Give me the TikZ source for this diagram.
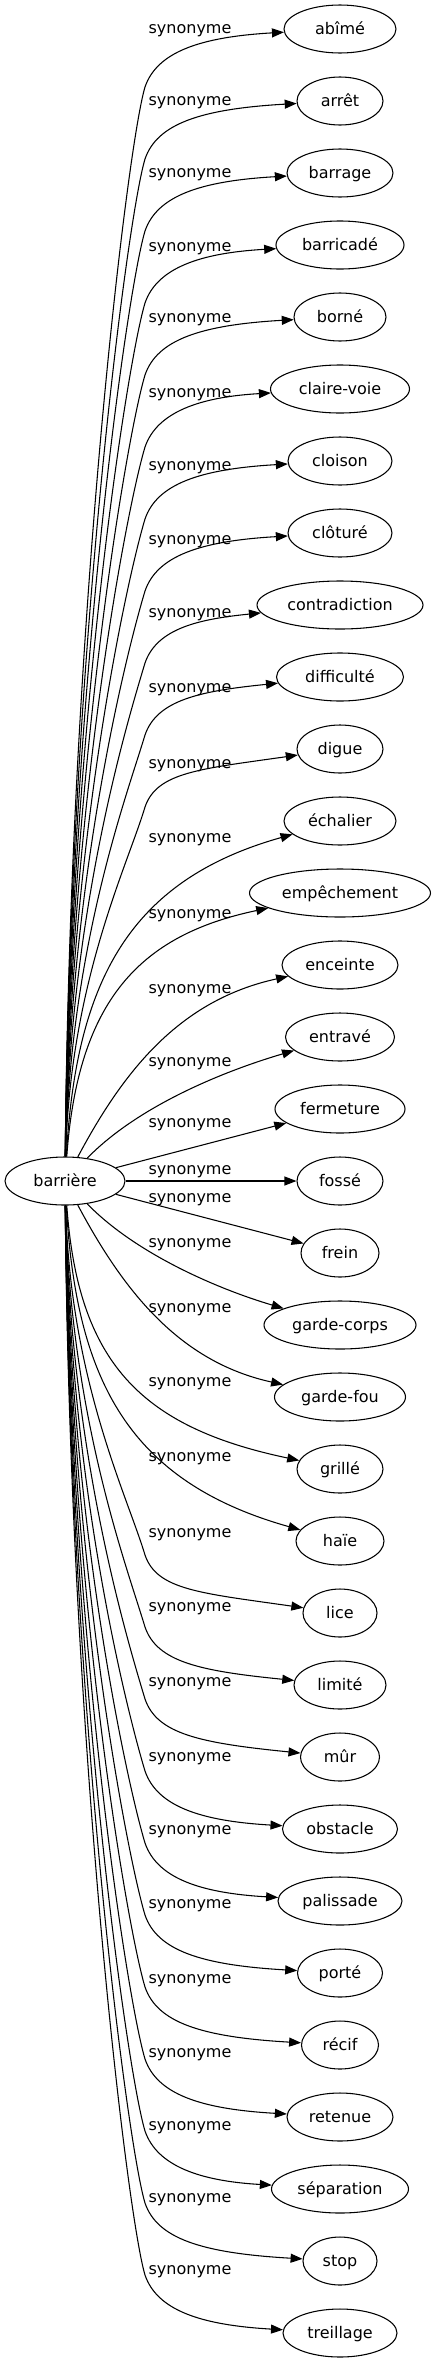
\documentclass[tikz,border=0pt]{standalone}
\usepackage{fontspec}
\setmainfont{DejaVu Sans}
\usepackage{tikz}
\usetikzlibrary{shapes}
\usetikzlibrary{arrows.meta}
\tikzset{word node/.style={ellipse, draw, line width=0.8pt, inner sep=0pt,
    minimum height=36pt, minimum width=#1,
    font=\fontsize{12pt}{14pt}\selectfont, text height=10pt, text depth=2pt}}
\tikzset{synonym label/.style={inner sep=0pt,
    font=\fontsize{12pt}{14pt}\selectfont, text height=9pt, text depth=2.5pt}}
\tikzset{synonym edge/.style={draw, line width=0.8pt, -{Triangle[length=9pt, width=6.75pt]}}}

\begin{document}
\begin{tikzpicture}
      [x=0.75pt, y=-0.75pt, auto]
      \useasboundingbox (0,0) rectangle (436,2363);
      \node [word node=90pt]     (root)  at ( 65, 1181) {barrière};
      \node [word node=84pt]     (syn0)  at (340,   29) {abîmé};
      \node [word node=64.5pt]   (syn1)  at (340,  101) {arrêt};
      \node [word node=79.5pt]   (syn2)  at (340,  173) {barrage};
      \node [word node=96pt]     (syn3)  at (340,  245) {barricadé};
      \node [word node=69pt]     (syn4)  at (340,  317) {borné};
      \node [word node=104.25pt] (syn5)  at (340,  389) {claire-voie};
      \node [word node=78pt]     (syn6)  at (340,  461) {cloison};
      \node [word node=78pt]     (syn7)  at (340,  533) {clôturé};
      \node [word node=124.5pt]  (syn8)  at (340,  605) {contradiction};
      \node [word node=95.25pt]  (syn9)  at (340,  677) {difficulté};
      \node [word node=64.5pt]   (syn10) at (340,  749) {digue};
      \node [word node=84pt]     (syn11) at (340,  821) {échalier};
      \node [word node=135.75pt] (syn12) at (340,  893) {empêchement};
      \node [word node=87pt]     (syn13) at (340,  965) {enceinte};
      \node [word node=81.75pt]  (syn14) at (340, 1037) {entravé};
      \node [word node=97.5pt]   (syn15) at (340, 1109) {fermeture};
      \node [word node=64.5pt]   (syn16) at (340, 1181) {fossé};
      \node [word node=58.5pt]   (syn17) at (340, 1253) {frein};
      \node [word node=114pt]    (syn18) at (340, 1325) {garde-corps};
      \node [word node=98.25pt]  (syn19) at (340, 1397) {garde-fou};
      \node [word node=64.5pt]   (syn20) at (340, 1469) {grillé};
      \node [word node=66pt]     (syn21) at (340, 1541) {haïe};
      \node [word node=55.5pt]   (syn22) at (340, 1613) {lice};
      \node [word node=69pt]     (syn23) at (340, 1685) {limité};
      \node [word node=59.25pt]  (syn24) at (340, 1757) {mûr};
      \node [word node=86.25pt]  (syn25) at (340, 1829) {obstacle};
      \node [word node=93pt]     (syn26) at (340, 1901) {palissade};
      \node [word node=63.75pt]  (syn27) at (340, 1973) {porté};
      \node [word node=57.75pt]  (syn28) at (340, 2045) {récif};
      \node [word node=79.5pt]   (syn29) at (340, 2117) {retenue};
      \node [word node=102.75pt] (syn30) at (340, 2189) {séparation};
      \node [word node=55.5pt]   (syn31) at (340, 2261) {stop};
      \node [word node=85.5pt]   (syn32) at (340, 2333) {treillage};

      \node [synonym label] (lab0)  at (190,   29) {synonyme};
      \node [synonym label] (lab1)  at (190,  101) {synonyme};
      \node [synonym label] (lab2)  at (190,  173) {synonyme};
      \node [synonym label] (lab3)  at (190,  247) {synonyme};
      \node [synonym label] (lab4)  at (190,  318) {synonyme};
      \node [synonym label] (lab5)  at (190,  393) {synonyme};
      \node [synonym label] (lab6)  at (190,  466) {synonyme};
      \node [synonym label] (lab7)  at (190,  540) {synonyme};
      \node [synonym label] (lab8)  at (190,  613) {synonyme};
      \node [synonym label] (lab9)  at (190,  688) {synonyme};
      \node [synonym label] (lab10) at (190,  764) {synonyme};
      \node [synonym label] (lab11) at (190,  838) {synonyme};
      \node [synonym label] (lab12) at (190,  914) {synonyme};
      \node [synonym label] (lab13) at (190,  989) {synonyme};
      \node [synonym label] (lab14) at (190, 1062) {synonyme};
      \node [synonym label] (lab15) at (190, 1123) {synonyme};
      \node [synonym label] (lab16) at (190, 1170) {synonyme};
      \node [synonym label] (lab17) at (190, 1198) {synonyme};
      \node [synonym label] (lab18) at (190, 1243) {synonyme};
      \node [synonym label] (lab19) at (190, 1308) {synonyme};
      \node [synonym label] (lab20) at (190, 1382) {synonyme};
      \node [synonym label] (lab21) at (190, 1457) {synonyme};
      \node [synonym label] (lab22) at (190, 1533) {synonyme};
      \node [synonym label] (lab23) at (190, 1607) {synonyme};
      \node [synonym label] (lab24) at (190, 1682) {synonyme};
      \node [synonym label] (lab25) at (190, 1757) {synonyme};
      \node [synonym label] (lab26) at (190, 1830) {synonyme};
      \node [synonym label] (lab27) at (190, 1904) {synonyme};
      \node [synonym label] (lab28) at (190, 1979) {synonyme};
      \node [synonym label] (lab29) at (190, 2053) {synonyme};
      \node [synonym label] (lab30) at (190, 2126) {synonyme};
      \node [synonym label] (lab31) at (190, 2198) {synonyme};
      \node [synonym label] (lab32) at (190, 2270) {synonyme};

      \draw [synonym edge] (root) .. controls (70,  622) and (127,  147) .. (145,   87) .. controls (157,   52) and (200,   37) .. (syn0);
      \draw [synonym edge] (root) .. controls (70,  658) and (127,  219) .. (145,  159) .. controls (157,  124) and (200,  109) .. (syn1);
      \draw [synonym edge] (root) .. controls (70,  694) and (127,  291) .. (145,  231) .. controls (157,  196) and (200,  181) .. (syn2);
      \draw [synonym edge] (root) .. controls (70,  730) and (127,  363) .. (145,  303) .. controls (157,  268) and (200,  253) .. (syn3);
      \draw [synonym edge] (root) .. controls (70,  766) and (127,  435) .. (145,  375) .. controls (157,  340) and (200,  325) .. (syn4);
      \draw [synonym edge] (root) .. controls (70,  802) and (127,  507) .. (145,  447) .. controls (157,  412) and (200,  397) .. (syn5);
      \draw [synonym edge] (root) .. controls (70,  838) and (127,  579) .. (145,  519) .. controls (157,  484) and (200,  469) .. (syn6);
      \draw [synonym edge] (root) .. controls (70,  874) and (127,  651) .. (145,  591) .. controls (157,  556) and (200,  541) .. (syn7);
      \draw [synonym edge] (root) .. controls (70,  910) and (127,  723) .. (145,  663) .. controls (157,  628) and (200,  619) .. (syn8);
      \draw [synonym edge] (root) .. controls (70,  946) and (127,  795) .. (145,  735) .. controls (157,  700) and (200,  691) .. (syn9);
      \draw [synonym edge] (root) .. controls (70,  982) and (127,  867) .. (145,  807) .. controls (157,  772) and (200,  769) .. (syn10);
      \draw [synonym edge] (root) .. controls (76,  980) and (130,  880) .. (syn11);
      \draw [synonym edge] (root) .. controls (78, 1000) and (140,  935) .. (syn12);
      \draw [synonym edge] (root) .. controls (124, 1070) and (180, 1000) .. (syn13);
      \draw [synonym edge] (root) .. controls (137, 1107) and (221, 1072) .. (syn14);
      \draw [synonym edge] (root) -- (syn15);
      \draw [synonym edge] (root) -- (syn16);
      \draw [synonym edge] (root) -- (syn17);
      \draw [synonym edge] (root) .. controls (137, 1255) and (221, 1290) .. (syn18);
      \draw [synonym edge] (root) .. controls (124, 1292) and (180, 1362) .. (syn19);
      \draw [synonym edge] (root) .. controls (78, 1362) and (140, 1427) .. (syn20);
      \draw [synonym edge] (root) .. controls (76, 1382) and (130, 1482) .. (syn21);
      \draw [synonym edge] (root) .. controls (70, 1380) and (127, 1495) .. (145, 1555) .. controls (157, 1590) and (200, 1593) .. (syn22);
      \draw [synonym edge] (root) .. controls (70, 1416) and (127, 1567) .. (145, 1627) .. controls (157, 1662) and (200, 1671) .. (syn23);
      \draw [synonym edge] (root) .. controls (70, 1452) and (127, 1639) .. (145, 1699) .. controls (157, 1734) and (200, 1743) .. (syn24);
      \draw [synonym edge] (root) .. controls (70, 1488) and (127, 1711) .. (145, 1771) .. controls (157, 1806) and (200, 1821) .. (syn25);
      \draw [synonym edge] (root) .. controls (70, 1524) and (127, 1783) .. (145, 1843) .. controls (157, 1878) and (200, 1893) .. (syn26);
      \draw [synonym edge] (root) .. controls (70, 1560) and (127, 1855) .. (145, 1915) .. controls (157, 1950) and (200, 1965) .. (syn27);
      \draw [synonym edge] (root) .. controls (70, 1596) and (127, 1927) .. (145, 1987) .. controls (157, 2022) and (200, 2037) .. (syn28);
      \draw [synonym edge] (root) .. controls (70, 1632) and (127, 1999) .. (145, 2059) .. controls (157, 2094) and (200, 2109) .. (syn29);
      \draw [synonym edge] (root) .. controls (70, 1668) and (127, 2071) .. (145, 2131) .. controls (157, 2166) and (200, 2181) .. (syn30);
      \draw [synonym edge] (root) .. controls (70, 1704) and (127, 2143) .. (145, 2203) .. controls (157, 2238) and (200, 2253) .. (syn31);
      \draw [synonym edge] (root) .. controls (70, 1740) and (127, 2215) .. (145, 2275) .. controls (157, 2310) and (200, 2325) .. (syn32);
    \end{tikzpicture}
\end{document}
